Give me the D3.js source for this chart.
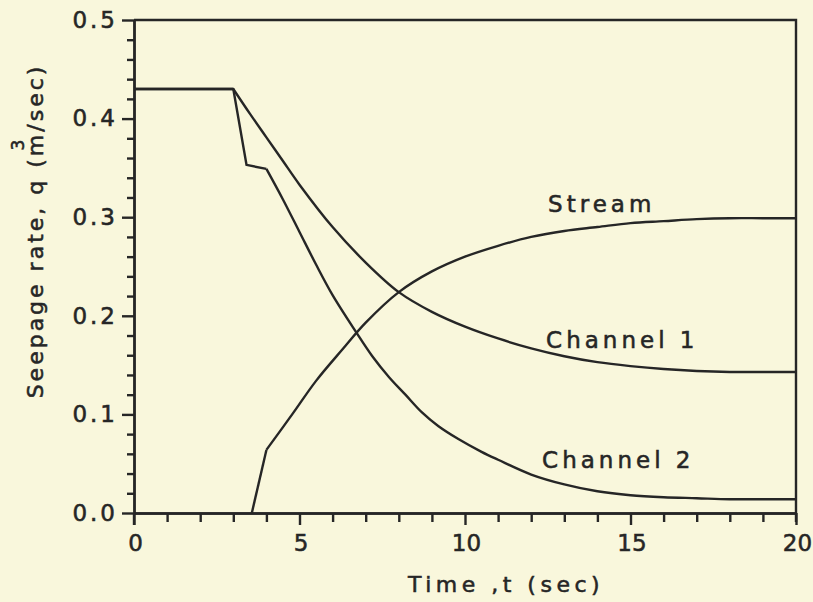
<!DOCTYPE html>
<html>
<head>
<meta charset="utf-8">
<script src="https://cdn.jsdelivr.net/npm/d3@7/dist/d3.min.js"></script>
<style>
  body { margin: 0; background: #f9f7dc; }
  svg { display: block; }
  text { font-family: "DejaVu Sans", sans-serif; fill: #262626; stroke: #262626; stroke-width: 0.55px; }
</style>
</head>
<body>
<svg class="plot" width="813" height="602"></svg>
<script>
// tick values
var timeTicks = [0, 5, 10, 15, 20];
var timeMinor = [1, 2, 3, 4, 6, 7, 8, 9, 11, 12, 13, 14, 16, 17, 18, 19];
var rateTicks = [0.0, 0.1, 0.2, 0.3, 0.4, 0.5];
var rateMinor = [0.02, 0.04, 0.06, 0.08, 0.12, 0.14, 0.16, 0.18, 0.22, 0.24, 0.26, 0.28,
                 0.32, 0.34, 0.36, 0.38, 0.42, 0.44, 0.46, 0.48];

// series (time in sec, rate in m3/sec)
var streamTime = [3.56, 4.0, 4.8, 5.5, 6.3, 7, 8, 9, 10, 11, 12, 13, 14, 15, 16, 17, 18, 19, 20];
var streamRate = [0.0, 0.064, 0.101, 0.134, 0.166, 0.193, 0.224, 0.245, 0.260, 0.271, 0.280,
                  0.286, 0.290, 0.294, 0.296, 0.298, 0.299, 0.299, 0.299];

var ch1Time = [0, 3, 3.5, 4, 4.5, 5, 6, 7, 8, 9, 10, 11, 12, 13, 14, 15, 16, 17, 18, 19, 20];
var ch1Rate = [0.43, 0.43, 0.405, 0.381, 0.357, 0.333, 0.290, 0.254, 0.224, 0.204, 0.189, 0.177,
               0.167, 0.159, 0.153, 0.149, 0.146, 0.144, 0.143, 0.143, 0.143];

var ch2Time = [0, 3, 3.4, 4.0, 4.5, 5, 5.5, 6, 6.7, 7.2, 7.7, 8.2, 8.7, 9.2, 9.8, 10.5, 11, 12, 13, 14, 15, 16, 17, 18, 19, 20];
var ch2Rate = [0.43, 0.43, 0.353, 0.349, 0.318, 0.285, 0.252, 0.221, 0.184, 0.159, 0.138, 0.120,
               0.102, 0.088, 0.075, 0.062, 0.054, 0.039, 0.029, 0.022, 0.018, 0.016, 0.015, 0.014,
               0.014, 0.014];

var svg = d3.select(".plot"),
    margin = {top: 20, right: 17, bottom: 89, left: 134},
    width = +svg.attr("width") - margin.left - margin.right,
    height = +svg.attr("height") - margin.top - margin.bottom;

var ink = "#262626";

var x = d3.scaleLinear().domain([0, 20]).range([0, width]),
    y = d3.scaleLinear().domain([0, 0.5]).range([height, 0]);

var g = svg.append("g")
    .attr("transform", "translate(" + margin.left + "," + margin.top + ")");

// frame: top and right edges
g.append("path")
    .attr("d", "M" + x(0) + "," + y(0.5) + "H" + x(20) + "V" + (y(0) + 9))
    .attr("fill", "none").attr("stroke", ink).attr("stroke-width", 2.4);

// minor ticks
g.append("g")
    .attr("transform", "translate(0," + height + ")")
    .call(d3.axisBottom(x).tickValues(timeMinor).tickSize(9).tickSizeOuter(0).tickFormat(""))
    .call(styleAxis);
g.append("g")
    .call(d3.axisLeft(y).tickValues(rateMinor).tickSize(7).tickSizeOuter(0).tickFormat(""))
    .call(styleAxis);

// major ticks with labels
g.append("g")
    .attr("class", "axis axis--x")
    .attr("transform", "translate(0," + height + ")")
    .call(d3.axisBottom(x).tickValues(timeTicks).tickSize(12).tickSizeOuter(0).tickPadding(10).tickFormat(d3.format("d")))
    .call(styleAxis)
    .selectAll("text")
    .style("font-size", "23px")
    .attr("dx", "1");

g.append("g")
    .attr("class", "axis axis--y")
    .call(d3.axisLeft(y).tickValues(rateTicks).tickSize(12).tickSizeOuter(0).tickPadding(7).tickFormat(d3.format(".1f")))
    .call(styleAxis)
    .selectAll("text")
    .style("font-size", "23px")
    .style("letter-spacing", "3px")
    .attr("dx", "3");

function styleAxis(sel) {
  sel.select(".domain").attr("stroke", ink).attr("stroke-width", 2.4);
  sel.selectAll(".tick line").attr("stroke", ink).attr("stroke-width", 2.4);
  sel.selectAll(".tick text").attr("fill", ink);
}

// y axis runs a little below the time axis
g.append("line")
    .attr("x1", x(0)).attr("x2", x(0))
    .attr("y1", y(0)).attr("y2", y(0) + 12)
    .attr("stroke", ink).attr("stroke-width", 2.4);

// curves: straight pieces up to the last kink, smooth after it
var straight = d3.line()
    .x(function(d) { return x(d.t); })
    .y(function(d) { return y(d.q); });
var smooth = d3.line()
    .curve(d3.curveCatmullRom.alpha(0.5))
    .x(function(d) { return x(d.t); })
    .y(function(d) { return y(d.q); });

function pts(ts, qs) { return ts.map(function(t, i) { return {t: t, q: qs[i]}; }); }

var series = [
  {name: "Stream",    data: pts(streamTime, streamRate), kink: 1},
  {name: "Channel 1", data: pts(ch1Time, ch1Rate),       kink: 1},
  {name: "Channel 2", data: pts(ch2Time, ch2Rate),       kink: 3}
];

series.forEach(function(s) {
  g.append("path")
      .attr("d", straight(s.data.slice(0, s.kink + 1)))
      .attr("fill", "none").attr("stroke", ink).attr("stroke-width", 2.4)
      .attr("stroke-linejoin", "round");
  g.append("path")
      .attr("d", smooth(s.data.slice(s.kink)))
      .attr("fill", "none").attr("stroke", ink).attr("stroke-width", 2.4)
      .attr("stroke-linejoin", "round");
});

// curve labels
var labels = [
  {text: "Stream",    t: 12.51, q: 0.305},
  {text: "Channel 1", t: 12.45, q: 0.167},
  {text: "Channel 2", t: 12.33, q: 0.046}
];
g.selectAll(".curve-label")
    .data(labels)
    .enter().append("text")
    .attr("class", "curve-label")
    .attr("x", function(d) { return x(d.t); })
    .attr("y", function(d) { return y(d.q); })
    .style("font-size", "23px")
    .style("letter-spacing", "4px")
    .text(function(d) { return d.text; });

// axis titles
svg.append("text")
    .attr("x", 506)
    .attr("y", 592)
    .attr("text-anchor", "middle")
    .style("font-size", "22px")
    .style("letter-spacing", "4.5px")
    .text("Time ,t (sec)");

var yTitle = svg.append("g")
    .attr("transform", "translate(43,231) rotate(-90)");
var yText = yTitle.append("text")
    .attr("text-anchor", "middle")
    .style("font-size", "22px")
    .style("letter-spacing", "3px")
    .text("Seepage rate, q (m/sec)");

// the cube sits above the "m"
var mIndex = "Seepage rate, q (".length;
var mStart = yText.node().getStartPositionOfChar(mIndex),
    mEnd = yText.node().getEndPositionOfChar(mIndex);
yTitle.append("text")
    .attr("x", (mStart.x + mEnd.x) / 2 - 1)
    .attr("y", -19)
    .attr("text-anchor", "middle")
    .style("font-size", "17px")
    .text("3");
</script>
</body>
</html>
